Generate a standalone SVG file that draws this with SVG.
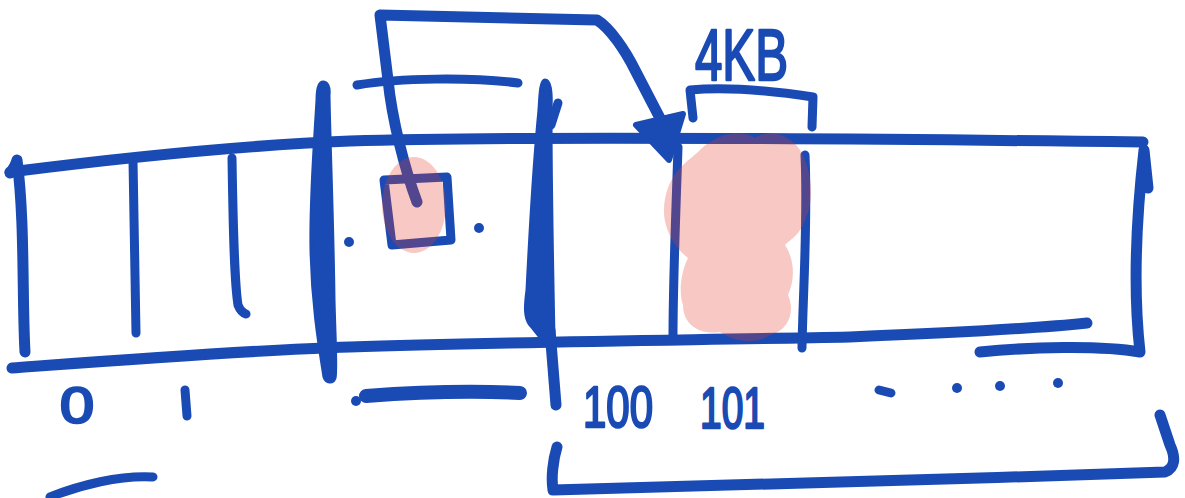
<svg xmlns="http://www.w3.org/2000/svg" width="1185" height="498" viewBox="0 0 1185 498">
<style>
.ink{fill:none;stroke:#1a4bb4;stroke-linecap:round;stroke-linejoin:round;stroke-width:11}
.thin{stroke-width:9}
.fat{stroke-width:14}
.dot{fill:#1a4bb4}
.solid{fill:#1a4bb4;stroke:#1a4bb4;stroke-width:3;stroke-linejoin:round}
.lbl{font-family:"Liberation Sans",Arial,sans-serif;fill:#1a4bb4;stroke:#1a4bb4;stroke-width:2.5;stroke-linejoin:round}
.hl{fill:rgb(230,58,44);opacity:0.28}
</style>
<rect width="1185" height="498" fill="#ffffff"/>
<g id="memory-strip">
  <path class="ink" d="M10,172 C120,158 250,145 350,141 C500,136 800,138 1143,142"/>
  <path class="ink" d="M12,368 C120,360 250,350 350,347 C500,342 700,340 850,337 C950,333 1040,328 1087,323"/>
  <path class="ink" d="M1148,188 L1144,150 C1136,220 1133,290 1140,352 C1100,345 1030,347 980,352"/>
  <path class="ink" d="M10,173 C14,168 16,164 17,160 C25,220 22,300 25,352"/>
  <path class="ink thin" d="M133,160 L136,333"/>
  <path class="ink thin" d="M232,158 C233,220 234,280 238,305 C240,310 243,313 246,314"/>
  <path class="solid" d="M323,82 C327,82 330,86 329,95 C330,150 333,220 334,300 C335,340 337,372 335,378 C333,384 326,383 324,377 C318,340 312,300 311,250 C310,200 314,150 317,100 C317,90 319,82 323,82 Z"/>
  <path class="solid" d="M545,80 C550,80 552,90 551,110 C551,200 553,280 554,340 L549,345 C540,340 535,330 530,325 C524,318 525,305 527,290 C530,230 534,160 539,110 C540,90 541,80 545,80 Z"/>
  <path class="ink" d="M550,330 L556,405"/>
  <path class="ink thin" d="M558,103 L551,125"/>
  <path class="ink thin" d="M678,147 C676,210 673,280 673,337"/>
  <path class="ink thin" d="M805,155 C808,220 803,290 802,348"/>
</g>
<g id="cell-small">
  <path class="ink thin" d="M384,180 L447,177 L451,240 L392,245 Z"/>
  <circle class="dot" cx="349" cy="242" r="5"/>
  <circle class="dot" cx="479" cy="228" r="5"/>
</g>
<g id="range-line">
  <path class="ink thin" d="M357,85 C400,78 470,77 518,83"/>
</g>
<g id="page-bracket">
  <path class="ink thin" d="M693,118 L690,90 C730,86 780,92 813,97 L812,127"/>
  <text class="lbl" x="695" y="80" font-size="72" textLength="93" lengthAdjust="spacingAndGlyphs">4KB</text>
</g>
<g id="connectors">
  <path class="ink" d="M417,202 C405,170 392,120 388,80 L380,15 L597,20 C610,28 625,50 635,70 L662,122"/>
  <polygon points="636,125 683,114 669,160" fill="#1a4bb4" stroke="#1a4bb4" stroke-width="6" stroke-linejoin="round"/>
</g>
<g id="highlights">
  <ellipse class="hl" cx="414" cy="205" rx="32" ry="48"/>
  <path class="hl" d="M700,150 C715,135 740,128 755,138 C770,128 790,135 800,150 C812,170 815,200 805,220 C800,235 790,240 785,245 C795,260 795,280 788,295 C795,310 790,330 770,335 C755,345 735,342 720,332 C700,335 683,325 683,305 C678,290 682,270 688,258 C678,250 670,240 666,225 C660,205 668,180 680,168 C688,160 695,155 700,150 Z"/>
</g>
<g id="index-labels">
  <text class="lbl" x="60" y="423" font-size="50" textLength="34" lengthAdjust="spacingAndGlyphs">0</text>
  <path class="ink thin" d="M185,390 L187,416"/>
  <circle class="dot" cx="356" cy="401" r="5"/>
  <path class="ink fat" d="M366,396 C420,392 480,391 520,393"/>
  <text class="lbl" x="583" y="427" font-size="58" textLength="70" lengthAdjust="spacingAndGlyphs">100</text>
  <text class="lbl" x="700" y="428" font-size="58" textLength="65" lengthAdjust="spacingAndGlyphs">101</text>
  <path class="ink thin" d="M879,390 L891,393"/>
  <circle class="dot" cx="957" cy="388" r="5"/>
  <circle class="dot" cx="1000" cy="386" r="5"/>
  <circle class="dot" cx="1058" cy="383" r="5"/>
</g>
<g id="lower-bracket">
  <path class="ink" d="M557,447 C553,460 551,478 553,490 C700,485 950,480 1165,472 C1175,468 1176,458 1170,445 L1160,415"/>
</g>
<g id="stray-stroke">
  <path class="ink thin" d="M50,497 C80,485 120,475 153,477"/>
</g>
</svg>
